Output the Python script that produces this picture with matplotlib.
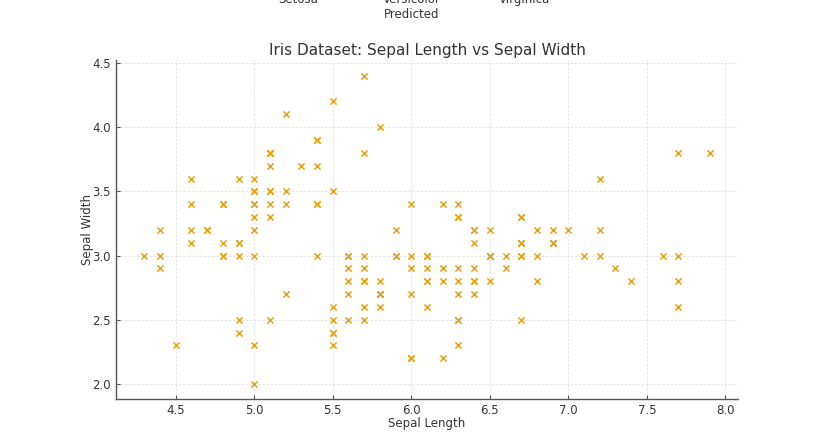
import matplotlib
matplotlib.use("Agg")
import matplotlib.pyplot as plt

sepal_length = [
    5.1, 4.9, 4.7, 4.6, 5.0, 5.4, 4.6, 5.0, 4.4, 4.9, 5.4, 4.8, 4.8, 4.3, 5.8, 5.7, 5.4, 5.1, 5.7, 5.1,
    5.4, 5.1, 4.6, 5.1, 4.8, 5.0, 5.0, 5.2, 5.2, 4.7, 4.8, 5.4, 5.2, 5.5, 4.9, 5.0, 5.5, 4.9, 4.4, 5.1,
    5.0, 4.5, 4.4, 5.0, 5.1, 4.8, 5.1, 4.6, 5.3, 5.0,
    7.0, 6.4, 6.9, 5.5, 6.5, 5.7, 6.3, 4.9, 6.6, 5.2, 5.0, 5.9, 6.0, 6.1, 5.6, 6.7, 5.6, 5.8, 6.2, 5.6,
    5.9, 6.1, 6.3, 6.1, 6.4, 6.6, 6.8, 6.7, 6.0, 5.7, 5.5, 5.5, 5.8, 6.0, 5.4, 6.0, 6.7, 6.3, 5.6, 5.5,
    5.5, 6.1, 5.8, 5.0, 5.6, 5.7, 5.7, 6.2, 5.1, 5.7,
    6.3, 5.8, 7.1, 6.3, 6.5, 7.6, 4.9, 7.3, 6.7, 7.2, 6.5, 6.4, 6.8, 5.7, 5.8, 6.4, 6.5, 7.7, 7.7, 6.0,
    6.9, 5.6, 7.7, 6.3, 6.7, 7.2, 6.2, 6.1, 6.4, 7.2, 7.4, 7.9, 6.4, 6.3, 6.1, 7.7, 6.3, 6.4, 6.0, 6.9,
    6.7, 6.9, 5.8, 6.8, 6.7, 6.7, 6.3, 6.5, 6.2, 5.9,
]
sepal_width = [
    3.5, 3.0, 3.2, 3.1, 3.6, 3.9, 3.4, 3.4, 2.9, 3.1, 3.7, 3.4, 3.0, 3.0, 4.0, 4.4, 3.9, 3.5, 3.8, 3.8,
    3.4, 3.7, 3.6, 3.3, 3.4, 3.0, 3.4, 3.5, 3.4, 3.2, 3.1, 3.4, 4.1, 4.2, 3.1, 3.2, 3.5, 3.6, 3.0, 3.4,
    3.5, 2.3, 3.2, 3.5, 3.8, 3.0, 3.8, 3.2, 3.7, 3.3,
    3.2, 3.2, 3.1, 2.3, 2.8, 2.8, 3.3, 2.4, 2.9, 2.7, 2.0, 3.0, 2.2, 2.9, 2.9, 3.1, 3.0, 2.7, 2.2, 2.5,
    3.2, 2.8, 2.5, 2.8, 2.9, 3.0, 2.8, 3.0, 2.9, 2.6, 2.4, 2.4, 2.7, 2.7, 3.0, 3.4, 3.1, 2.3, 3.0, 2.5,
    2.6, 3.0, 2.6, 2.3, 2.7, 3.0, 2.9, 2.9, 2.5, 2.8,
    3.3, 2.7, 3.0, 2.9, 3.0, 3.0, 2.5, 2.9, 2.5, 3.6, 3.2, 2.7, 3.0, 2.5, 2.8, 3.2, 3.0, 3.8, 2.6, 2.2,
    3.2, 2.8, 2.8, 2.7, 3.3, 3.2, 2.8, 3.0, 2.8, 3.0, 2.8, 3.8, 2.8, 2.8, 2.6, 3.0, 3.4, 3.1, 3.0, 3.1,
    3.1, 3.1, 2.7, 3.2, 3.3, 3.0, 2.5, 3.0, 3.4, 3.0,
]
legend_labels = ["Setosa", "Versicolor\nPredicted", "Virginica"]
title = "Iris Dataset: Sepal Length vs Sepal Width"
xlabel = "Sepal Length"
ylabel = "Sepal Width"

W, H = 838, 438
fig = plt.figure(figsize=(W / 100, H / 100), dpi=100)
left, right, top, bottom = 116, 738, 60.4, 399.4
ax = fig.add_axes([left / W, (H - bottom) / H, (right - left) / W, (bottom - top) / H])

text_color = "#333333"
ax.scatter(sepal_length, sepal_width, marker="x", s=20, linewidths=1.1, color="#E9A30F", zorder=3)

ax.set_title(title, fontsize=11, color=text_color, pad=4)
ax.set_xlabel(xlabel, fontsize=8.5, color=text_color, labelpad=0)
ax.set_ylabel(ylabel, fontsize=8.5, color=text_color, labelpad=-1)

ax.grid(True, linestyle=(0, (3, 2)), color="#e0e0e0", linewidth=0.6, zorder=0)
ax.set_axisbelow(True)
for s in ["top", "right"]:
    ax.spines[s].set_visible(False)
for s in ["left", "bottom"]:
    ax.spines[s].set_color("#555555")
    ax.spines[s].set_linewidth(1.0)
ax.tick_params(direction="in", length=3, color="#555555", labelcolor=text_color, labelsize=8.5)
ax.set_xticks([4.5, 5.0, 5.5, 6.0, 6.5, 7.0, 7.5, 8.0])
ax.set_yticks([2.0, 2.5, 3.0, 3.5, 4.0, 4.5])

xs = [298, 412, 525]
for x, lab in zip(xs, legend_labels):
    fig.text(x / W, 1 - (-7) / H, lab, ha="center", va="top", fontsize=8.5,
             color=text_color, multialignment="center", linespacing=1.2)

fig.savefig("out.png", dpi=100)
